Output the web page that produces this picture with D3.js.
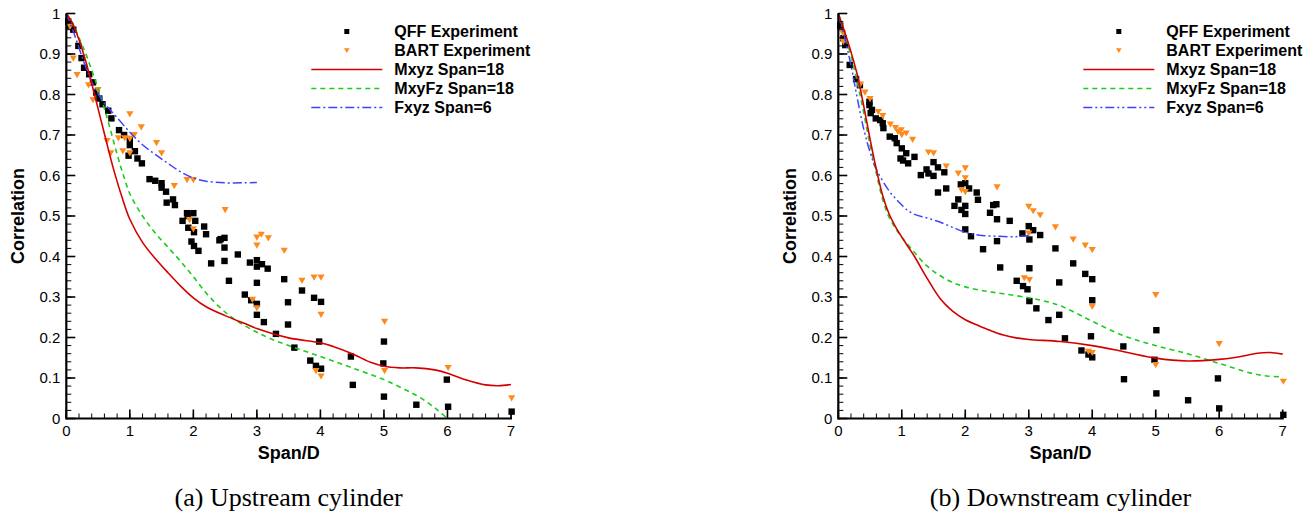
<!DOCTYPE html>
<html>
<head>
<meta charset="utf-8">
<script src="https://cdn.jsdelivr.net/npm/d3@7"></script>
<style>
  html, body { margin: 0; padding: 0; background: #fff; }
  svg { display: block; }
</style>
</head>
<body>
<svg id="chart" width="1310" height="518"></svg>
<script>
// ---------------- DATA ----------------
const xTickValues = [0, 1, 2, 3, 4, 5, 6, 7];
const yTickValues = [0, 0.1, 0.2, 0.3, 0.4, 0.5, 0.6, 0.7, 0.8, 0.9, 1];
const legendLabels = ["QFF Experiment", "BART Experiment", "Mxyz Span=18", "MxyFz Span=18", "Fxyz Span=6"];
const xTitle = "Span/D";
const yTitle = "Correlation";
const captions = ["(a) Upstream cylinder", "(b) Downstream cylinder"];

// Upstream cylinder
const upQFF = [
  [0.03,0.98],[0.06,0.97],[0.11,0.96],[0.19,0.92],[0.24,0.89],[0.28,0.866],[0.36,0.85],[0.42,0.83],
  [0.47,0.805],[0.52,0.79],[0.57,0.776],[0.66,0.76],[0.71,0.741],[0.83,0.712],[0.91,0.70],[1.0,0.69],
  [1.0,0.675],[1.08,0.66],[0.98,0.649],[1.12,0.642],[1.19,0.63],[1.31,0.591],[1.40,0.587],[1.50,0.581],
  [1.50,0.57],[1.57,0.56],[1.68,0.541],[1.58,0.533],[1.71,0.527],[1.90,0.507],[2.0,0.507],[1.91,0.500],
  [1.83,0.488],[2.03,0.488],[1.92,0.471],[2.01,0.46],[2.17,0.474],[2.20,0.455],[1.97,0.437],[2.01,0.426],
  [2.08,0.414],[2.41,0.44],[2.43,0.443],[2.49,0.446],[2.49,0.422],[2.28,0.383],[2.49,0.389],[2.70,0.405],
  [2.56,0.34],[2.89,0.385],[3.0,0.391],[3.08,0.381],[3.0,0.375],[3.17,0.37],[3.0,0.335],[3.43,0.344],
  [2.81,0.306],[2.91,0.292],[3.0,0.283],[3.0,0.256],[3.11,0.238],[3.30,0.209],[3.49,0.287],[3.49,0.232],
  [3.71,0.316],[3.90,0.298],[4.01,0.288],[3.98,0.19],[3.59,0.175],[3.84,0.143],[3.93,0.13],[4.01,0.123],
  [4.48,0.153],[4.51,0.083],[5.0,0.19],[4.99,0.136],[5.0,0.054],[5.51,0.034],[5.99,0.096],[6.01,0.029],
  [7.01,0.017]
];
const upBART = [
  [0.06,0.967],[0.11,0.889],[0.17,0.848],[0.35,0.823],[0.50,0.811],[0.42,0.786],[1.0,0.751],[1.18,0.719],
  [0.64,0.685],[0.82,0.692],[0.92,0.692],[1.0,0.69],[1.07,0.70],[1.42,0.68],[1.50,0.655],[0.89,0.66],
  [0.70,0.655],[1.0,0.655],[1.90,0.589],[2.0,0.589],[1.70,0.574],[2.50,0.515],[1.94,0.49],[2.0,0.467],
  [3.0,0.447],[3.07,0.454],[3.18,0.445],[3.0,0.427],[3.43,0.414],[2.93,0.293],[3.0,0.272],[3.71,0.34],
  [3.90,0.348],[4.01,0.348],[4.01,0.256],[3.93,0.117],[4.01,0.104],[5.01,0.239],[5.01,0.117],[6.01,0.125],
  [7.01,0.05]
];
const upMxyz = [
  [0,1],[0.1,0.975],[0.2,0.935],[0.3,0.885],[0.4,0.827],[0.5,0.765],[0.6,0.703],[0.75,0.612],[0.9,0.535],
  [1.0,0.492],[1.2,0.435],[1.4,0.395],[1.6,0.36],[1.8,0.327],[2.0,0.298],[2.2,0.276],[2.5,0.254],[2.8,0.235],
  [3.0,0.222],[3.5,0.199],[4.0,0.187],[4.2,0.178],[4.5,0.16],[4.8,0.138],[5.0,0.129],[5.25,0.125],[5.5,0.125],
  [5.8,0.12],[6.0,0.112],[6.3,0.095],[6.6,0.083],[6.8,0.081],[7.0,0.084]
];
const upMxyFz = [
  [0,1],[0.1,0.975],[0.2,0.94],[0.3,0.903],[0.4,0.86],[0.5,0.815],[0.6,0.765],[0.7,0.71],[0.8,0.652],
  [0.9,0.6],[1.0,0.555],[1.2,0.5],[1.4,0.458],[1.6,0.423],[1.8,0.388],[2.0,0.35],[2.2,0.31],[2.4,0.277],
  [2.6,0.25],[2.8,0.23],[3.0,0.213],[3.2,0.198],[3.5,0.18],[4.0,0.153],[4.5,0.125],[5.0,0.096],[5.3,0.074],
  [5.5,0.058],[5.7,0.038],[5.85,0.02],[6.0,0.0]
];
const upFxyz = [
  [0,1],[0.1,0.96],[0.2,0.915],[0.3,0.87],[0.4,0.832],[0.5,0.802],[0.6,0.778],[0.7,0.76],[0.8,0.743],
  [1.0,0.707],[1.2,0.676],[1.4,0.652],[1.6,0.63],[1.8,0.609],[2.0,0.594],[2.2,0.586],[2.5,0.582],
  [2.8,0.582],[3.0,0.583]
];

// Downstream cylinder
const downQFF = [
  [0.03,0.97],[0.08,0.939],[0.11,0.922],[0.18,0.873],[0.28,0.838],[0.34,0.823],[0.49,0.782],[0.49,0.774],
  [0.53,0.762],[0.51,0.754],[0.59,0.741],[0.66,0.737],[0.70,0.729],[0.71,0.717],[0.81,0.696],[0.89,0.692],
  [0.92,0.68],[1.0,0.667],[1.07,0.655],[1.20,0.646],[0.98,0.642],[1.02,0.637],[1.10,0.63],[1.50,0.633],
  [1.39,0.615],[1.57,0.62],[1.42,0.605],[1.50,0.599],[1.30,0.601],[1.67,0.608],[1.70,0.568],[1.57,0.558],
  [1.93,0.578],[2.0,0.581],[2.06,0.568],[1.89,0.541],[2.18,0.558],[2.20,0.54],[1.83,0.525],[2.0,0.525],
  [1.94,0.515],[2.39,0.508],[2.49,0.529],[2.44,0.527],[2.0,0.505],[2.50,0.492],[2.70,0.488],[2.0,0.467],
  [2.09,0.45],[2.50,0.438],[2.28,0.418],[2.90,0.457],[3.0,0.475],[3.07,0.465],[3.18,0.453],[3.01,0.442],
  [2.55,0.373],[3.01,0.371],[3.42,0.42],[2.81,0.34],[2.91,0.327],[2.98,0.319],[3.01,0.29],[3.12,0.272],
  [3.31,0.243],[3.48,0.336],[3.48,0.256],[3.70,0.383],[3.89,0.357],[4.0,0.344],[4.0,0.292],[3.57,0.198],
  [3.98,0.203],[3.83,0.168],[3.94,0.158],[4.0,0.151],[4.49,0.178],[4.50,0.097],[5.01,0.218],[4.98,0.145],
  [5.01,0.062],[5.51,0.045],[5.98,0.099],[6.0,0.025],[7.01,0.009]
];
const downBART = [
  [0.07,0.951],[0.08,0.93],[0.35,0.825],[0.42,0.805],[0.50,0.789],[0.63,0.757],[0.70,0.747],[0.82,0.726],
  [0.90,0.717],[0.99,0.712],[1.07,0.704],[0.94,0.708],[1.0,0.70],[1.17,0.688],[1.42,0.657],[1.50,0.655],
  [1.70,0.622],[1.89,0.605],[2.0,0.618],[2.0,0.593],[1.94,0.564],[2.0,0.559],[2.50,0.571],[3.0,0.523],
  [3.07,0.512],[3.18,0.502],[3.42,0.472],[3.0,0.457],[2.93,0.346],[3.01,0.342],[3.70,0.442],[3.89,0.427],
  [4.0,0.416],[4.0,0.276],[3.94,0.165],[4.0,0.162],[5.0,0.305],[5.0,0.132],[6.0,0.184],[7.01,0.091]
];
const downMxyz = [
  [0,1],[0.1,0.955],[0.2,0.905],[0.3,0.848],[0.4,0.772],[0.5,0.69],[0.6,0.615],[0.7,0.55],[0.8,0.505],
  [0.9,0.474],[1.0,0.448],[1.1,0.424],[1.2,0.4],[1.4,0.346],[1.6,0.297],[1.8,0.265],[2.0,0.244],[2.2,0.23],
  [2.4,0.217],[2.6,0.206],[2.8,0.199],[3.0,0.195],[3.5,0.19],[4.0,0.18],[4.5,0.165],[5.0,0.149],[5.5,0.142],
  [6.0,0.146],[6.3,0.152],[6.6,0.161],[6.8,0.163],[7.0,0.159]
];
const downMxyFz = [
  [0,1],[0.1,0.95],[0.2,0.895],[0.3,0.83],[0.4,0.755],[0.5,0.675],[0.6,0.605],[0.7,0.54],[0.8,0.497],
  [0.9,0.47],[1.0,0.448],[1.2,0.41],[1.4,0.376],[1.6,0.353],[1.8,0.336],[2.0,0.325],[2.3,0.315],[2.6,0.308],
  [3.0,0.298],[3.3,0.288],[3.5,0.278],[3.75,0.26],[4.0,0.24],[4.5,0.204],[5.0,0.18],[5.5,0.16],[6.0,0.136],
  [6.5,0.112],[6.75,0.105],[7.0,0.103]
];
const downFxyz = [
  [0,1],[0.1,0.94],[0.2,0.872],[0.3,0.79],[0.4,0.715],[0.5,0.658],[0.6,0.615],[0.8,0.562],[0.92,0.54],
  [1.0,0.527],[1.1,0.513],[1.2,0.504],[1.4,0.495],[1.6,0.485],[1.8,0.472],[2.0,0.46],[2.2,0.453],
  [2.5,0.45],[2.8,0.449],[3.0,0.452]
];

// ---------------- DRAWING ----------------
const svg = d3.select("#chart");
const FONT = "'Liberation Sans', Arial, Helvetica, sans-serif";
const COL = { qff: "#000000", bart: "#ff8a1c", red: "#d40000", green: "#1ccc1c", blue: "#4040ff" };

const panels = [
  { x0: 66.3, x1: 511, qff: upQFF, bart: upBART, mxyz: upMxyz, mxyfz: upMxyFz, fxyz: upFxyz,
    blueDash: "9,3,2,3", caption: captions[0] },
  { x0: 838.3, x1: 1282.7, qff: downQFF, bart: downBART, mxyz: downMxyz, mxyfz: downMxyFz, fxyz: downFxyz,
    blueDash: "9,3,2,3,2,3", caption: captions[1] }
];
const yTop = 13.5, yBot = 418.5;

panels.forEach(p => {
  const x = d3.scaleLinear().domain([0, 7]).range([p.x0, p.x1]);
  const y = d3.scaleLinear().domain([0, 1]).range([yBot, yTop]);
  const g = svg.append("g");
  const cx = (p.x0 + p.x1) / 2;

  // Markers: QFF squares
  g.append("g").selectAll("rect").data(p.qff).join("rect")
    .attr("x", d => x(d[0]) - 3.2).attr("y", d => y(d[1]) - 3.2)
    .attr("width", 6.4).attr("height", 6.4).attr("fill", COL.qff);

  // BART down triangles
  g.append("g").selectAll("path").data(p.bart).join("path")
    .attr("d", "M-3.6,-3 L3.6,-3 L0,3.2 Z")
    .attr("transform", d => `translate(${x(d[0])},${y(d[1])})`)
    .attr("fill", COL.bart);

  const line = d3.line().x(d => x(d[0])).y(d => y(d[1])).curve(d3.curveCatmullRom.alpha(0.5));

  g.append("path").datum(p.mxyfz).attr("d", line).attr("fill", "none")
    .attr("stroke", COL.green).attr("stroke-width", 1.6).attr("stroke-dasharray", "5,4");
  g.append("path").datum(p.fxyz).attr("d", line).attr("fill", "none")
    .attr("stroke", COL.blue).attr("stroke-width", 1.5).attr("stroke-dasharray", p.blueDash);
  g.append("path").datum(p.mxyz).attr("d", line).attr("fill", "none")
    .attr("stroke", COL.red).attr("stroke-width", 1.6);

  // Axes
  const minorX = d3.range(0, 7.0001, 0.2);
  const minorY = d3.range(0, 1.0001, 0.02);
  const ax = g.append("g").attr("stroke", "#000");
  ax.selectAll("line.mx").data(minorX).join("line").attr("class", "mx")
    .attr("x1", d => x(d)).attr("x2", d => x(d)).attr("y1", yBot).attr("y2", yBot - 5).attr("stroke-width", 1);
  ax.selectAll("line.Mx").data(xTickValues).join("line").attr("class", "Mx")
    .attr("x1", d => x(d)).attr("x2", d => x(d)).attr("y1", yBot).attr("y2", yBot - 9).attr("stroke-width", 1.6);
  ax.selectAll("line.my").data(minorY).join("line").attr("class", "my")
    .attr("y1", d => y(d)).attr("y2", d => y(d)).attr("x1", p.x0).attr("x2", p.x0 + 5).attr("stroke-width", 1);
  ax.selectAll("line.My").data(yTickValues).join("line").attr("class", "My")
    .attr("y1", d => y(d)).attr("y2", d => y(d)).attr("x1", p.x0).attr("x2", p.x0 + 9).attr("stroke-width", 1.6);
  ax.append("line").attr("x1", p.x0).attr("x2", p.x1 + 1).attr("y1", yBot).attr("y2", yBot).attr("stroke-width", 2.2);
  ax.append("line").attr("x1", p.x0).attr("x2", p.x0).attr("y1", yTop).attr("y2", yBot + 1).attr("stroke-width", 2.2);

  // Tick labels
  g.append("g").selectAll("text").data(xTickValues).join("text")
    .attr("x", d => x(d)).attr("y", 436).attr("text-anchor", "middle")
    .attr("font-family", FONT).attr("font-size", 15).text(d => d3.format("")(d));
  g.append("g").selectAll("text").data(yTickValues).join("text")
    .attr("x", p.x0 - 6).attr("y", d => y(d) + 5).attr("text-anchor", "end")
    .attr("font-family", FONT).attr("font-size", 15).text(d => d3.format("")(d));

  // Axis titles
  g.append("text").attr("x", cx).attr("y", 459).attr("text-anchor", "middle")
    .attr("font-family", FONT).attr("font-weight", "bold").attr("font-size", 18).text(xTitle);
  g.append("text").attr("transform", `translate(${p.x0 - 42},216) rotate(-90)`).attr("text-anchor", "middle")
    .attr("font-family", FONT).attr("font-weight", "bold").attr("font-size", 18).text(yTitle);

  // Legend
  const lg = g.append("g");
  const rowY = i => 31.5 + 19 * i;
  lg.append("rect").attr("x", p.x0 + 280.5 - 2.5).attr("y", rowY(0) - 2.5).attr("width", 5).attr("height", 5).attr("fill", COL.qff);
  lg.append("path").attr("d", "M-2.8,-2.3 L2.8,-2.3 L0,2.5 Z")
    .attr("transform", `translate(${p.x0 + 280.5},${rowY(1)})`).attr("fill", COL.bart);
  const lx1 = p.x0 + 245, lx2 = p.x0 + 316;
  lg.append("line").attr("x1", lx1).attr("x2", lx2).attr("y1", rowY(2)).attr("y2", rowY(2))
    .attr("stroke", COL.red).attr("stroke-width", 1.6);
  lg.append("line").attr("x1", lx1).attr("x2", lx2).attr("y1", rowY(3)).attr("y2", rowY(3))
    .attr("stroke", COL.green).attr("stroke-width", 1.6).attr("stroke-dasharray", "5,4");
  lg.append("line").attr("x1", lx1).attr("x2", lx2).attr("y1", rowY(4)).attr("y2", rowY(4))
    .attr("stroke", COL.blue).attr("stroke-width", 1.5).attr("stroke-dasharray", p.blueDash);
  lg.selectAll("text").data(legendLabels).join("text")
    .attr("x", p.x0 + 328).attr("y", (d, i) => rowY(i) + 5.8)
    .attr("font-family", FONT).attr("font-weight", "bold").attr("font-size", 16).text(d => d);

  // Caption
  g.append("text").attr("x", cx).attr("y", 506).attr("text-anchor", "middle")
    .attr("font-family", "'Liberation Serif', 'Times New Roman', serif").attr("font-size", 26).text(p.caption);
});
</script>
</body>
</html>
